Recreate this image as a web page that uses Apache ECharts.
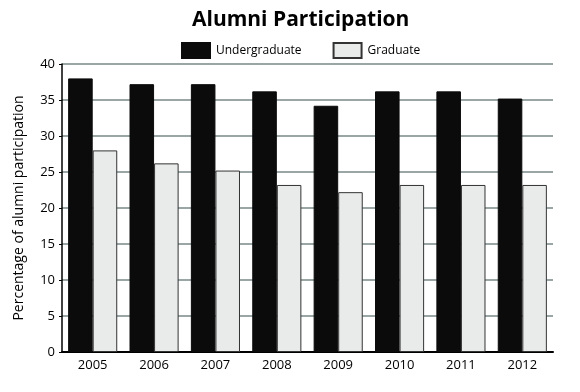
<!DOCTYPE html>
<html><head><meta charset="utf-8">
<script src="https://cdn.jsdelivr.net/npm/echarts@6/dist/echarts.min.js"></script>
<style>html,body{margin:0;padding:0;background:#fff}#c{width:580px;height:392px}</style>
</head><body><div id="c"></div>
<script>
const categories = ['2005','2006','2007','2008','2009','2010','2011','2012'];
const undergraduate = [38, 37.2, 37.2, 36.2, 34.2, 36.2, 36.2, 35.2];
const graduate = [28, 26.2, 25.2, 23.2, 22.2, 23.2, 23.2, 23.2];
const yTicks = { min: 0, max: 40, interval: 5 };
const F = '"Open Sans", "Noto Sans", sans-serif';
const chart = echarts.init(document.getElementById('c'), null, {renderer:'canvas'});
chart.setOption({
  animation: false,
  title: { text: 'Alumni Participation', left: 192, top: 10, padding: 0,
    textStyle: { fontFamily: F, fontSize: 21, fontWeight: 'bold', color: '#000' } },
  legend: { top: 42, left: 181, padding: 0, itemWidth: 28, itemHeight: 15, itemGap: 31, icon: 'rect',
    textStyle: { fontFamily: F, fontSize: 12, color: '#000', padding: [0,0,0,1] },
    data: ['Undergraduate', 'Graduate'] },
  grid: { left: 62, right: 27, top: 64, bottom: 40 },
  xAxis: { type: 'category', data: categories,
    axisLine: { lineStyle: { color: '#000', width: 2 } },
    axisTick: { show: false },
    axisLabel: { fontFamily: F, fontSize: 13, color: '#000', margin: 7 } },
  yAxis: { type: 'value', min: yTicks.min, max: yTicks.max, interval: yTicks.interval,
    name: 'Percentage of alumni participation', nameLocation: 'middle', nameGap: 36,
    nameTextStyle: { fontFamily: F, fontSize: 14, color: '#000' },
    axisLine: { show: true, lineStyle: { color: '#000', width: 1.5 } },
    axisTick: { show: true, length: 3, lineStyle: { color: '#000' } },
    axisLabel: { fontFamily: F, fontSize: 13, color: '#000', margin: 7 },
    splitLine: { lineStyle: { color: '#9aa6a6', width: 2 } } },
  series: [
    { name: 'Undergraduate', type: 'bar', data: undergraduate, barGap: '0%', barCategoryGap: '20%',
      itemStyle: { color: '#0b0b0b', borderColor: '#0b0b0b', borderWidth: 1 } },
    { name: 'Graduate', type: 'bar', data: graduate,
      itemStyle: { color: '#e9ebea', borderColor: '#333', borderWidth: 1 } }
  ]
});
</script></body></html>
